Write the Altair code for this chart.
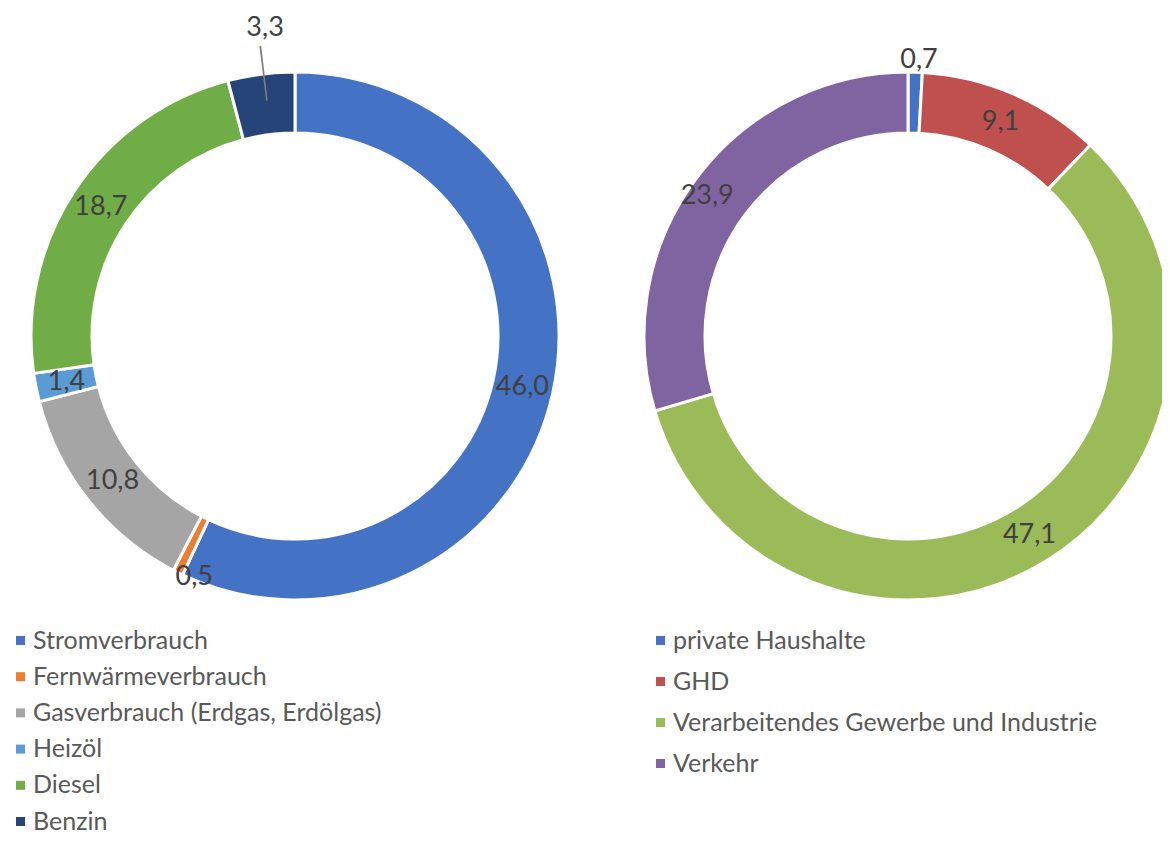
import math
import altair as alt
import pandas as pd

# ---- data ----
left_cats = ["Stromverbrauch", "Fernwärmeverbrauch", "Gasverbrauch (Erdgas, Erdölgas)",
             "Heizöl", "Diesel", "Benzin"]
left_vals = [46.0, 0.5, 10.8, 1.4, 18.7, 3.3]
left_colors = ["#4472C4", "#ED7D31", "#A5A5A5", "#5B9BD5", "#70AD47", "#264478"]

right_cats = ["private Haushalte", "GHD", "Verarbeitendes Gewerbe und Industrie", "Verkehr"]
right_vals = [0.7, 9.1, 47.1, 23.9]
right_colors = ["#4472C4", "#C0504D", "#9BBB59", "#8064A2"]

# label placement (style): radius and small angular nudge (fraction of a turn)
RING_LABEL_R = 233
left_label_r = {"Benzin": 309, "Fernwärmeverbrauch": 261}
left_label_nudge = {"Benzin": 0.005, "Fernwärmeverbrauch": -0.010}
right_label_r = {"private Haushalte": 276, "Verkehr": 245}
right_label_nudge = {"private Haushalte": 0.002, "Verkehr": -0.005}
leader_cats = ["Benzin"]


def build(cats, vals, rmap, nmap):
    total = sum(vals)
    rows, cum = [], 0.0
    for i, (c, v) in enumerate(zip(cats, vals)):
        mid = (cum + v / 2) / total
        rows.append(dict(cat=c, value=v, order=i,
                         start=cum / total, end=(cum + v) / total,
                         mid=mid, lt=mid + nmap.get(c, 0.0),
                         lr=rmap.get(c, RING_LABEL_R),
                         label=f"{v:.1f}".replace(".", ",")))
        cum += v
    df = pd.DataFrame(rows)
    df["l0"] = df["mid"] + 0.0015 - 0.0005
    df["l1"] = df["mid"] + 0.0015 + 0.0005
    return df


dfL = build(left_cats, left_vals, left_label_r, left_label_nudge)
dfR = build(right_cats, right_vals, right_label_r, right_label_nudge)

TH = alt.Scale(type="linear", domain=[0, 1], range=[0, 2 * math.pi])
FONT = "Lato"

LCX, LCY = 287, 328
RCX, RCY = 900, 328
R_OUT, R_IN = 264, 203


def legend(x, y, row_pad):
    return alt.Legend(orient="none", legendX=x, legendY=y, title=None,
                      symbolType="square", symbolSize=81, symbolStrokeWidth=0,
                      labelFont=FONT, labelFontSize=25, labelColor="#595959",
                      labelLimit=700, labelOffset=0, rowPadding=row_pad, padding=0)


def donut(df, cats, colors, cx, cy, leg):
    arcs = alt.Chart(df).mark_arc(outerRadius=R_OUT, innerRadius=R_IN,
                                  stroke="white", strokeWidth=3).encode(
        x=alt.value(cx), y=alt.value(cy),
        theta=alt.Theta("start:Q", scale=TH, stack=None),
        theta2="end:Q",
        color=alt.Color("cat:N", sort=cats,
                        scale=alt.Scale(domain=cats, range=colors),
                        legend=leg),
        order=alt.Order("order:Q"),
    )
    texts = alt.Chart(df).mark_text(font=FONT, fontSize=27, color="#404040").encode(
        x=alt.value(cx), y=alt.value(cy),
        theta=alt.Theta("lt:Q", scale=TH, stack=None),
        radius=alt.Radius("lr:Q", scale=None),
        text="label:N",
    )
    return arcs, texts


arcL, txtL = donut(dfL, left_cats, left_colors, LCX, LCY, legend(0, 620, 10.2))
arcR, txtR = donut(dfR, right_cats, right_colors, RCX, RCY, legend(640, 620, 15))

leader = alt.Chart(dfL[dfL["cat"].isin(leader_cats)]).mark_arc(
    outerRadius=292, innerRadius=237, color="#7F7F7F").encode(
    x=alt.value(LCX), y=alt.value(LCY),
    theta=alt.Theta("l0:Q", scale=TH, stack=None),
    theta2="l1:Q",
)

chart = alt.layer(arcL, leader, txtL, arcR, txtR).resolve_scale(
    color="independent"
).properties(
    width=1154, height=825, padding=0,
    autosize=alt.AutoSizeParams(type="none"),
).configure_view(stroke=None)

chart.save("out.html", embed_options={"renderer": "svg", "actions": False})
